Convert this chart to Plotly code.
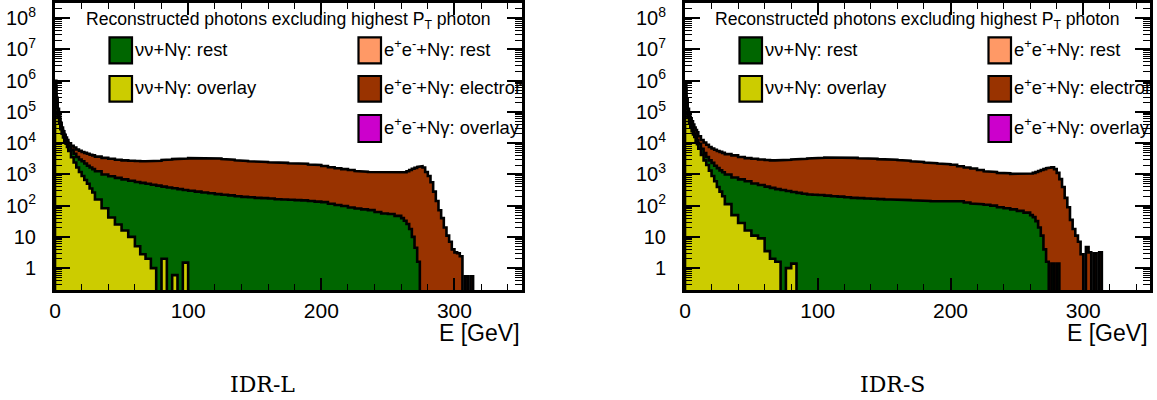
import math
import plotly.graph_objects as go

# ---------------- data ----------------
# bin edges in GeV (variable binning)
E_EDGES = [0, 1, 2, 3, 4, 5, 6, 7, 8, 9, 10,
           12, 14, 16, 18, 20, 22, 24, 26, 28, 30,
           35, 40, 45, 50, 55, 60,
           64, 68, 72, 76, 80, 84, 88, 92, 96, 100,
           105, 110, 115, 120, 125, 130, 135, 140, 145, 150, 155, 160, 165, 170, 175, 180,
           185, 190, 195, 200, 205, 210, 215, 220, 225, 230, 235, 240, 245, 250, 255, 260,
           262, 264, 266, 268, 270, 272, 274, 276, 278, 280, 282, 284, 286, 288, 290, 292,
           294, 296, 298, 300, 302, 304, 306, 308, 310, 312, 314, 316, 318, 320]

# IDR-L : entries per bin
nunu_overlay_L = [355000, 141000, 70800, 41700, 28200, 19950, 15140, 12020, 9550, 7590,
                  5620, 3550, 2400, 1660, 1200, 891, 661, 501, 355, 263,
                  158, 83, 42, 25, 16, 10,
                  5, 2.8, 2, 1, 0, 2, 0, 0.6, 0, 1.5,
                  0, 0, 0, 0, 0, 0, 0, 0, 0, 0, 0, 0, 0, 0, 0, 0,
                  0, 0, 0, 0, 0, 0, 0, 0, 0, 0, 0, 0, 0, 0, 0, 0,
                  0, 0, 0, 0, 0, 0, 0, 0, 0, 0, 0, 0, 0, 0, 0,
                  0, 0, 0, 0, 0, 0, 0, 0, 0, 0, 0, 0, 0, 0, 0]
nunu_rest_L = [276000, 58500, 24700, 14500, 8970, 6350, 4820, 3830, 3040, 2880,
               2320, 2480, 2170, 1970, 1820, 1740, 1580, 1400, 1305, 1216,
               1100, 917, 829, 751, 676, 621,
               570, 534, 499, 467, 437, 405, 380, 362, 339, 315,
               302, 282, 263, 251, 234, 224, 214, 200, 191, 186, 178, 174, 170, 160, 158, 155,
               151, 148, 141, 135, 130, 115, 105, 98, 87, 81, 76, 72, 63, 56, 54, 47,
               40, 33, 26, 18, 10, 4.5, 1.6, 0, 0, 0, 0, 0, 0, 0, 0,
               0, 0, 0, 0, 0, 0, 0, 0, 0, 0, 0, 0, 0, 0, 0]
ee_electron_L = [369000, 82300, 30400, 14600, 7510, 5320, 4030, 2770, 2550, 2120,
                 2060, 2290, 2670, 2680, 2730, 2620, 2660, 2670, 2610, 2595,
                 2456, 2388, 2291, 2175, 2126, 2123,
                 2117, 2093, 2129, 2224, 2317, 2477, 2640, 2727, 2823, 2920,
                 3009, 3106, 3125, 3060, 3002, 2866, 2737, 2618, 2501, 2444, 2392, 2338, 2285, 2239, 2186, 2136,
                 2088, 2040, 1948, 1860, 1732, 1583, 1480, 1381, 1293, 1207, 1154, 1130, 1139, 1119, 1094, 1101,
                 1108, 1142, 1233, 1362, 1504, 1617, 1736, 1820, 1660, 1202, 891, 562, 282, 141, 71,
                 40, 20, 11, 7, 4, 3.2, 3, 2.4, 0, 0.55, 0, 0.55, 0, 0, 0]

# IDR-S : entries per bin
nunu_overlay_S = [316000, 126000, 70800, 44700, 31600, 23990, 19060, 15850, 12020, 9330,
                  6610, 4170, 2820, 2000, 1320, 891, 603, 398, 282, 200,
                  112, 50, 28, 16, 11, 9,
                  3.5, 2, 1.6, 0, 1, 1.4, 0, 0, 0, 0,
                  0, 0, 0, 0, 0, 0, 0, 0, 0, 0, 0, 0, 0, 0, 0, 0,
                  0, 0, 0, 0, 0, 0, 0, 0, 0, 0, 0, 0, 0, 0, 0, 0,
                  0, 0, 0, 0, 0, 0, 0, 0, 0, 0, 0, 0, 0, 0, 0,
                  0, 0, 0, 0, 0, 0, 0, 0, 0, 0, 0, 0, 0, 0, 0]
nunu_rest_S = [246000, 51900, 24700, 15600, 10100, 7630, 6060, 4100, 3830, 3260,
               2940, 2440, 1970, 1630, 1500, 1450, 1300, 1190, 1070, 975,
               888, 744, 664, 587, 502, 448,
               404, 370, 337, 316, 294, 274, 257, 240, 229, 224,
               219, 209, 200, 195, 186, 178, 174, 170, 166, 162, 158, 158, 155, 151, 148, 145,
               141, 138, 135, 135, 132, 138, 126, 117, 112, 107, 100, 89, 83, 76, 68, 60,
               50, 43, 32, 20, 11, 4, 1.6, 0, 1.4, 0, 1.4, 0, 0, 0, 0,
               0, 0, 0, 0, 0, 0, 0, 0, 0, 0, 0, 0, 0, 0, 0]
ee_electron_S = [329000, 85200, 30400, 15600, 21400, 18500, 14700, 11670, 10450, 9800,
                 7050, 5980, 5690, 5280, 4770, 4420, 4260, 4040, 3900, 3720,
                 3470, 3280, 2940, 2710, 2650, 2560,
                 2480, 2450, 2480, 2570, 2660, 2750, 2830, 2920, 3010, 3090,
                 3169, 3258, 3348, 3353, 3281, 3210, 3137, 3066, 2996, 2928, 2862, 2793, 2729, 2603, 2482, 2367,
                 2258, 2153, 2104, 2003, 1910, 1682, 1534, 1432, 1268, 1152, 1102, 1033, 1013, 971, 955, 963,
                 1022, 1079, 1170, 1268, 1369, 1475, 1583, 1660, 1697, 1479, 1121, 708, 398, 178, 89,
                 35, 18, 11, 7, 2.8, 0, 4.7, 3.2, 0, 3, 0, 3.2, 0, 0, 0]

Y_TICKS = [1, 10, 100, 1e3, 1e4, 1e5, 1e6, 1e7, 1e8]
Y_TICKTEXT = ["1", "10", "10<sup>2</sup>", "10<sup>3</sup>", "10<sup>4</sup>",
              "10<sup>5</sup>", "10<sup>6</sup>", "10<sup>7</sup>", "10<sup>8</sup>"]
X_TICKS = [0, 100, 200, 300]

LEGEND_TITLE = "Reconstructed photons excluding highest P<sub>T</sub> photon"
LEGEND_LABELS = ["νν+Nγ: rest", "νν+Nγ: overlay",
                 "e<sup>+</sup>e<sup>-</sup>+Nγ: rest",
                 "e<sup>+</sup>e<sup>-</sup>+Nγ: electron",
                 "e<sup>+</sup>e<sup>-</sup>+Nγ: overlay"]
PANEL_NAMES = ["IDR-L", "IDR-S"]

# ---------------- style ----------------
C_YELLOW = "#cccc00"
C_GREEN = "#006600"
C_BROWN = "#993300"
C_PEACH = "#ff9966"
C_MAGENTA = "#cc00cc"
LEGEND_COLORS = [C_GREEN, C_YELLOW, C_PEACH, C_BROWN, C_MAGENTA]

W, H = 1157, 400
SANS = "Liberation Sans, Arial, sans-serif"
SERIF = "DejaVu Serif, serif"

# panel frames in pixels
FRAMES = [(55, 521.7), (685, 1150.3)]
FRAME_TOP, FRAME_BOT = 3.3, 290
X_RANGE = [0, 350.5]
Y_MIN, Y_MAX = 0.2, 3e8
FLOOR = 1e-3


def px(xp):
    return xp / W


def py(yp):
    return 1 - yp / H


def step_polygon(edges, vals):
    xs, ys = [edges[0]], [FLOOR]
    for i, v in enumerate(vals):
        v = v if v > 0 else FLOOR
        xs += [edges[i], edges[i + 1]]
        ys += [v, v]
    xs.append(edges[-1])
    ys.append(FLOOR)
    return xs, ys


fig = go.Figure()

panels = [(nunu_overlay_L, nunu_rest_L, ee_electron_L),
          (nunu_overlay_S, nunu_rest_S, ee_electron_S)]

for p, (yel, grn, brn) in enumerate(panels):
    xa = "x" if p == 0 else "x2"
    ya = "y" if p == 0 else "y2"
    lvl1 = list(yel)
    lvl2 = [a + b for a, b in zip(yel, grn)]
    lvl3 = [a + b for a, b in zip(lvl2, brn)]
    for lvl, col in [(lvl3, C_BROWN), (lvl2, C_GREEN), (lvl1, C_YELLOW)]:
        xs, ys = step_polygon(E_EDGES, lvl)
        fig.add_trace(go.Scatter(x=xs, y=ys, xaxis=xa, yaxis=ya, mode="lines",
                                 fill="toself", fillcolor=col,
                                 line=dict(color="black", width=2.6),
                                 hoverinfo="skip", showlegend=False))

# legend labels: text traces on pixel-unit overlay axes so they are clipped by the frame
ROW_Y = [(37.3, 63.3), (76.0, 101.7), (115.0, 142.0)]
slots = [(0, 0), (0, 1), (1, 0), (1, 1), (1, 2)]  # (column, row)
for p, (fl, fr) in enumerate(FRAMES):
    xa = "x3" if p == 0 else "x4"
    ya = "y3" if p == 0 else "y4"
    tx, ty = [], []
    for (col, row), lab in zip(slots, LEGEND_LABELS):
        bx1 = fl + (54.5 if col == 0 else 303.5) + 22.5
        y0, y1 = ROW_Y[row]
        tx.append(bx1 + 3)
        ty.append((y0 + y1) / 2 + 1)
    fig.add_trace(go.Scatter(x=tx, y=ty, xaxis=xa, yaxis=ya, mode="text",
                             text=LEGEND_LABELS, textposition="middle right",
                             textfont=dict(family=SANS, size=18.4, color="black"),
                             cliponaxis=True, hoverinfo="skip", showlegend=False))

axis_common = dict(showline=True, linecolor="black", linewidth=3, mirror="allticks",
                   ticks="inside", tickcolor="black", showgrid=False, zeroline=False,
                   automargin=False)

minor_y = [m * 10 ** d for d in range(-1, 9) for m in range(2, 10)]

layout = dict(width=W, height=H, margin=dict(l=0, r=0, t=0, b=0, autoexpand=False),
              paper_bgcolor="white", plot_bgcolor="white", showlegend=False,
              hovermode=False)

for p, (fl, fr) in enumerate(FRAMES):
    sx = "" if p == 0 else "2"
    layout["xaxis" + sx] = dict(
        axis_common, domain=[px(fl), px(fr)], range=X_RANGE, anchor="y" + sx,
        tickmode="array", tickvals=X_TICKS, ticklen=12, tickwidth=1.5,
        ticklabelstandoff=0,
        tickfont=dict(family=SANS, size=21, color="black"),
        minor=dict(ticks="inside", dtick=20, tick0=0, ticklen=6, tickwidth=1.2,
                   tickcolor="black", showgrid=False))
    layout["yaxis" + sx] = dict(
        axis_common, type="log", domain=[py(FRAME_BOT), py(FRAME_TOP)],
        range=[math.log10(Y_MIN), math.log10(Y_MAX)], anchor="x" + sx,
        tickmode="array", tickvals=Y_TICKS, ticktext=Y_TICKTEXT,
        ticklen=15, tickwidth=1.5, ticklabelstandoff=12,
        tickfont=dict(family=SANS, size=20, color="black"),
        minor=dict(ticks="inside", tickmode="array", tickvals=minor_y, ticklen=7,
                   tickwidth=1.2, tickcolor="black", showgrid=False))
    # overlay axes in pixel units (for clipped legend text)
    ox = "3" if p == 0 else "4"
    layout["xaxis" + ox] = dict(overlaying="x" + sx, anchor="y" + ox, range=[fl, fr],
                                visible=False, showgrid=False, zeroline=False,
                                automargin=False)
    layout["yaxis" + ox] = dict(overlaying="y" + sx, anchor="x" + ox,
                                range=[FRAME_BOT, FRAME_TOP], visible=False,
                                showgrid=False, zeroline=False, automargin=False)

fig.update_layout(**layout)

shapes = []
annotations = []
for p, (fl, fr) in enumerate(FRAMES):
    # legend title
    annotations.append(dict(x=px((fl + fr) / 2), y=py(20.5), xref="paper", yref="paper",
                            text=LEGEND_TITLE, showarrow=False, xanchor="center",
                            yanchor="middle", font=dict(family=SANS, size=17.6, color="black")))
    for (col, row), colr in zip(slots, LEGEND_COLORS):
        bx0 = fl + (54.5 if col == 0 else 303.5)
        bx1 = bx0 + 22.5
        y0, y1 = ROW_Y[row]
        shapes.append(dict(type="rect", xref="paper", yref="paper",
                           x0=px(bx0), x1=px(bx1), y0=py(y1), y1=py(y0),
                           fillcolor=colr, line=dict(color="black", width=2.2)))
    # x axis title
    annotations.append(dict(x=px(fr), y=py(333.3), xref="paper", yref="paper",
                            text="E [GeV]", showarrow=False, xanchor="right",
                            yanchor="middle", font=dict(family=SANS, size=23, color="black")))
    # caption
    annotations.append(dict(x=px(fl + 207), y=py(384), xref="paper", yref="paper",
                            text=PANEL_NAMES[p], showarrow=False, xanchor="center",
                            yanchor="middle", font=dict(family=SERIF, size=22, color="black")))

fig.update_layout(shapes=shapes, annotations=annotations)
fig.write_html("out.html")
